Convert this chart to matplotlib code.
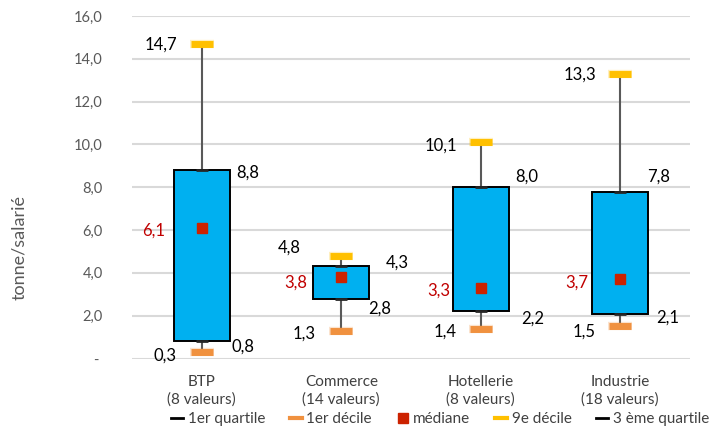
import matplotlib.pyplot as plt
from matplotlib.lines import Line2D

plt.rcParams['font.family'] = ['Lato', 'DejaVu Sans']

categories = ['BTP\n(8 valeurs)', 'Commerce\n(14 valeurs)', 'Hotellerie\n(8 valeurs)', 'Industrie\n(18 valeurs)']
decile1 = [0.3, 1.3, 1.4, 1.5]
quartile1 = [0.8, 2.8, 2.2, 2.1]
mediane = [6.1, 3.8, 3.3, 3.7]
quartile3 = [8.8, 4.3, 8.0, 7.8]
decile9 = [14.7, 4.8, 10.1, 13.3]
yticks = [0, 2, 4, 6, 8, 10, 12, 14, 16]

# decalages des etiquettes (pixels, x vers la droite, y vers le bas)
off_d9 = [(-24.5, 0.6), (-40.5, -8.5), (-24, 3), (-24.3, 1)]
off_q3 = [(34.5, 3), (44.5, -4), (34.3, -10.5), (27, -14.7)]
off_med = [(-36.5, 3), (-34, 5), (-30.7, 3), (-31.7, 3)]
off_q1 = [(30, 5.5), (27, 10), (40, 7), (35.7, 4)]
off_d1 = [(-25.5, 4), (-25.5, 2.5), (-24, 3), (-24.3, 5)]

c_box = '#00B0F0'
c_orange = '#F0913F'
c_yellow = '#FFC000'
c_red = '#CC2200'
c_grid = '#D9D9D9'
c_text = '#404040'

fig = plt.figure(figsize=(7.2, 4.29), dpi=100)
ax = fig.add_axes([132/720, 1 - 358.5/429, 558/720, 342.5/429])

x = list(range(len(categories)))
w = 0.40

for i in x:
    ax.plot([i, i], [decile1[i], quartile1[i]], color='#595959', lw=1.5, zorder=1)
    ax.plot([i, i], [quartile3[i], decile9[i]], color='#595959', lw=1.5, zorder=1)

ax.bar(x, [t - b for t, b in zip(quartile3, quartile1)], bottom=quartile1, width=w,
       color=c_box, edgecolor='black', linewidth=1.4, zorder=2)

ax.plot(x, quartile1, ls='none', marker='_', ms=8, mew=2, color='#262626', zorder=3)
ax.plot(x, quartile3, ls='none', marker='_', ms=8, mew=2, color='#262626', zorder=3)
for vals, col in [(decile1, c_orange), (decile9, c_yellow)]:
    ax.plot(x, vals, ls='none', marker='_', ms=17.5, mew=6, color=col, alpha=0.25, zorder=3)
    ax.plot(x, vals, ls='none', marker='_', ms=16.5, mew=5, color=col, zorder=4)
ax.plot(x, mediane, ls='none', marker='s', ms=7, color=c_red, zorder=4)


def fmt(v):
    return f'{v:.1f}'.replace('.', ',')


def label(vals, offs, ha, color='black'):
    for i, v in enumerate(vals):
        dx, dy = offs[i]
        ax.annotate(fmt(v), xy=(i, v), xytext=(dx, -dy), textcoords='offset pixels',
                    ha=ha, va='center', fontsize=12, color=color, zorder=5)


label(decile9, off_d9, 'right')
label(quartile3, off_q3, 'left')
label(mediane, off_med, 'right', color='#C00000')
label(quartile1, off_q1, 'left')
label(decile1, off_d1, 'right')

ax.set_xlim(-0.5, 3.5)
ax.set_ylim(0, 16)
ax.set_yticks(yticks)
ax.set_yticklabels([fmt(t) if t else '- ' for t in yticks], fontsize=10.5, color='#595959')
ax.set_xticks(x)
ax.set_xticklabels(categories, fontsize=11, color=c_text, linespacing=1.3)
ax.tick_params(length=0)
ax.tick_params(axis='y', pad=21)
ax.tick_params(axis='x', pad=12)
ax.grid(axis='y', color=c_grid, lw=1.5, zorder=0)
ax.set_axisbelow(True)
for s in ax.spines.values():
    s.set_visible(False)

fig.text(19/720, 1 - 248/429, 'tonne/salarié', rotation=90, ha='center', va='center',
         fontsize=13, color='#595959')

handles = [
    Line2D([], [], color='black', lw=2),
    Line2D([], [], color=c_orange, lw=3),
    Line2D([], [], ls='none', marker='s', ms=7, color=c_red),
    Line2D([], [], color=c_yellow, lw=3),
    Line2D([], [], color='black', lw=2),
]
names = ['1er quartile', '1er décile', 'médiane', '9e décile', '3 ème quartile']
leg = fig.legend(handles, names, loc='center', bbox_to_anchor=(440/720, 1 - 419/429),
                 ncol=5, frameon=False, fontsize=11, handlelength=0.8, handletextpad=0.3,
                 columnspacing=1.6, borderpad=0)
for t in leg.get_texts():
    t.set_color(c_text)

fig.savefig('out.png', dpi=100)
